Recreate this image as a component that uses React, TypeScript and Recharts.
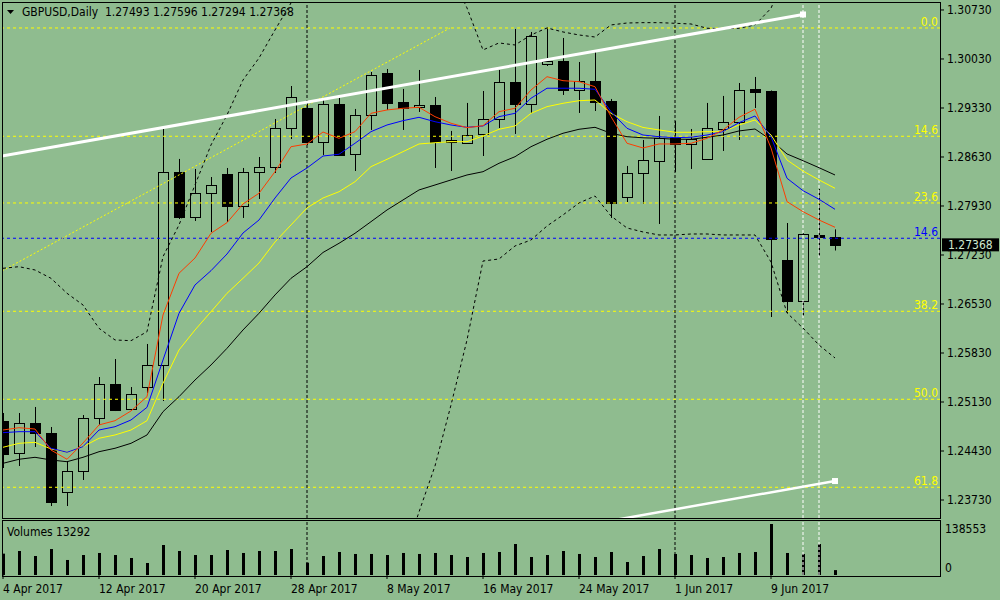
import { ComposedChart, Bar, Line, XAxis, YAxis, ReferenceLine, ReferenceDot } from 'recharts'

const BG = '#8fbc8f'
const FONT = '"DejaVu Sans Condensed", "Liberation Sans Narrow", "Liberation Sans", sans-serif'

// x domain: 16px per bar, bar 1 centred 1px right of the left border
const X_MIN = 0.9375
const X_MAX = 59.5625
const Y_MIN = 1.23473
const Y_MAX = 1.30844

const dates = [
  '4 Apr', '5 Apr', '6 Apr', '7 Apr', '10 Apr', '11 Apr', '12 Apr', '13 Apr', '14 Apr', '17 Apr',
  '18 Apr', '19 Apr', '20 Apr', '21 Apr', '24 Apr', '25 Apr', '26 Apr', '27 Apr', '28 Apr', '1 May',
  '2 May', '3 May', '4 May', '5 May', '8 May', '9 May', '10 May', '11 May', '12 May', '15 May',
  '16 May', '17 May', '18 May', '19 May', '22 May', '23 May', '24 May', '25 May', '26 May', '29 May',
  '30 May', '31 May', '1 Jun', '2 Jun', '5 Jun', '6 Jun', '7 Jun', '8 Jun', '9 Jun', '12 Jun',
  '13 Jun', '14 Jun', '15 Jun',
]

const opens = [
  1.24859, 1.24401, 1.2483, 1.24687, 1.23844, 1.24144, 1.24901, 1.25387, 1.2503, 1.25344,
  1.25659, 1.28416, 1.27773, 1.28116, 1.28387, 1.2793, 1.28416, 1.28487, 1.29044, 1.2933,
  1.28844, 1.29387, 1.28673, 1.2923, 1.2983, 1.29416, 1.29344, 1.29373, 1.28844, 1.2883,
  1.28959, 1.29173, 1.29702, 1.29387, 1.29959, 1.30002, 1.29587, 1.29716, 1.2943, 1.28059,
  1.28402, 1.28573, 1.28902, 1.28816, 1.28602, 1.2903, 1.2913, 1.29602, 1.29573, 1.27159,
  1.26573, 1.27516, 1.27493,
]
const highs = [
  1.24973, 1.24973, 1.25059, 1.24773, 1.24287, 1.24944, 1.25487, 1.25744, 1.25344, 1.25959,
  1.29044, 1.28602, 1.28459, 1.28344, 1.28473, 1.28473, 1.2863, 1.29173, 1.29644, 1.29402,
  1.29473, 1.29473, 1.29316, 1.29844, 1.29887, 1.29602, 1.29873, 1.29487, 1.29002, 1.29402,
  1.29573, 1.29873, 1.30459, 1.30416, 1.30487, 1.3033, 1.29987, 1.3013, 1.29459, 1.28502,
  1.28873, 1.29216, 1.29144, 1.2903, 1.29402, 1.29502, 1.29687, 1.29773, 1.2958, 1.27687,
  1.2754, 1.28173, 1.27596,
]
const lows = [
  1.24187, 1.24216, 1.24487, 1.23644, 1.23644, 1.24016, 1.24801, 1.25001, 1.25016, 1.25259,
  1.25144, 1.27744, 1.27716, 1.27559, 1.27701, 1.27759, 1.2803, 1.28402, 1.28887, 1.28802,
  1.28659, 1.28644, 1.2843, 1.29016, 1.29302, 1.29016, 1.29273, 1.28473, 1.2843, 1.28816,
  1.28644, 1.29044, 1.28959, 1.29259, 1.2993, 1.29516, 1.29259, 1.29287, 1.27759, 1.27987,
  1.27959, 1.27673, 1.28416, 1.28459, 1.28595, 1.28716, 1.28873, 1.2933, 1.26344, 1.26402,
  1.26359, 1.27216, 1.27294,
]
const closes = [
  1.24387, 1.2483, 1.24687, 1.23701, 1.24144, 1.24901, 1.25387, 1.25016, 1.25244, 1.25659,
  1.28416, 1.27773, 1.28116, 1.2823, 1.2793, 1.28416, 1.28487, 1.29044, 1.29487, 1.28844,
  1.29387, 1.28659, 1.2923, 1.29802, 1.29402, 1.2933, 1.29373, 1.28844, 1.28873, 1.28944,
  1.29173, 1.29702, 1.29387, 1.30359, 1.30002, 1.29587, 1.29716, 1.29416, 1.27973, 1.28402,
  1.28587, 1.28902, 1.28816, 1.28887, 1.29044, 1.2913, 1.29587, 1.29559, 1.27459, 1.26573,
  1.2753, 1.27493, 1.27368,
]
const volumes = [
  58000, 65200, 51600, 70600, 40800, 54300, 59800, 54300, 46200, 32600,
  81500, 65200, 54300, 54300, 67900, 59800, 65200, 65200, 70600, 33500,
  51600, 62500, 57100, 57100, 54300, 59800, 57100, 59800, 54300, 48900,
  59800, 62500, 84200, 48900, 54300, 65200, 57100, 48900, 62500, 35300,
  51600, 70600, 57100, 54300, 46200, 48900, 59800, 62500, 138553, 59800,
  57100, 84200, 13292,
]

const maRed = [
  1.2473, 1.24763, 1.24744, 1.24444, 1.24312, 1.24544, 1.24802, 1.24863, 1.25002, 1.25206,
  1.26373, 1.26969, 1.27187, 1.2754, 1.27692, 1.27959, 1.28112, 1.2842, 1.28777, 1.28816,
  1.28987, 1.28897, 1.28992, 1.29254, 1.29302, 1.29326, 1.2934, 1.29206, 1.29112, 1.29049,
  1.29077, 1.29277, 1.29326, 1.29587, 1.29777, 1.2972, 1.29706, 1.29634, 1.29206, 1.28826,
  1.28759, 1.28816, 1.28816, 1.28826, 1.28897, 1.29016, 1.29197, 1.29312, 1.28759, 1.27992,
  1.27849, 1.2773, 1.27626,
]
const maBlue = [
  1.24692, 1.24706, 1.24706, 1.24469, 1.24412, 1.24492, 1.2473, 1.24777, 1.24873, 1.25054,
  1.2573, 1.26397, 1.26802, 1.27006, 1.27244, 1.27544, 1.2773, 1.28044, 1.2833, 1.28473,
  1.28644, 1.28669, 1.28826, 1.28992, 1.29087, 1.29149, 1.29197, 1.29134, 1.29087, 1.29054,
  1.29073, 1.29206, 1.29254, 1.29469, 1.29612, 1.29612, 1.29612, 1.29597, 1.29277, 1.2904,
  1.28944, 1.2892, 1.28906, 1.28912, 1.28944, 1.28992, 1.2912, 1.29216, 1.2892, 1.28326,
  1.28149, 1.28026, 1.27883,
]
const maYellow = [
  1.24483, 1.2454, 1.24554, 1.24459, 1.24412, 1.24492, 1.24612, 1.24659, 1.2473, 1.24863,
  1.25397, 1.25873, 1.26159, 1.2642, 1.26683, 1.26897, 1.27116, 1.27416, 1.27659, 1.27902,
  1.28044, 1.28134, 1.28277, 1.28492, 1.28597, 1.28706, 1.28816, 1.28834, 1.28849, 1.28849,
  1.2893, 1.29026, 1.29073, 1.29254, 1.29349, 1.29397, 1.29434, 1.29444, 1.29254, 1.29134,
  1.29052, 1.29016, 1.28983, 1.28983, 1.28992, 1.28992, 1.29087, 1.29159, 1.28944, 1.28587,
  1.2843, 1.28302, 1.28183,
]
const maBlack = [
  1.24254, 1.24312, 1.2434, 1.24302, 1.24277, 1.2434, 1.2442, 1.24469, 1.2454, 1.24659,
  1.24992, 1.25206, 1.25444, 1.25659, 1.25897, 1.26159, 1.26397, 1.26659, 1.26897, 1.27063,
  1.27266, 1.27397, 1.2754, 1.27706, 1.27873, 1.28016, 1.28159, 1.2823, 1.28302, 1.28373,
  1.2842, 1.2854, 1.28634, 1.28777, 1.28883, 1.28969, 1.29026, 1.29054, 1.28969, 1.2892,
  1.28904, 1.28897, 1.28883, 1.28883, 1.28912, 1.28944, 1.29002, 1.2903, 1.28873, 1.28673,
  1.28577, 1.28477, 1.28373,
]
const bandUpper = [
  1.2704, 1.27063, 1.27016, 1.26897, 1.26683, 1.26516, 1.26183, 1.26016, 1.26006, 1.26134,
  1.27206, 1.27659, 1.2823, 1.28802, 1.2923, 1.2973, 1.30044, 1.30444, 1.3083, 1.3123,
  1.31516, 1.3173, 1.31873, 1.31944, 1.31944, 1.31873, 1.3173, 1.31516, 1.3123, 1.30759,
  1.30159, 1.30259, 1.3023, 1.30373, 1.30473, 1.30416, 1.30373, 1.30344, 1.30516, 1.30544,
  1.30549, 1.30549, 1.3054, 1.3053, 1.30469, 1.30463, 1.30469, 1.30516, 1.30754, 1.31302,
  1.31516, 1.31659, 1.31759,
]
const bandLower = [
  1.22873, 1.22873, 1.22944, 1.22873, 1.22873, 1.22944, 1.22873, 1.22802, 1.22802, 1.22873,
  1.22016, 1.21587, 1.21159, 1.20873, 1.2073, 1.2073, 1.20873, 1.21016, 1.21159, 1.21302,
  1.21587, 1.21873, 1.22159, 1.22444, 1.22659, 1.22873, 1.23559, 1.24216, 1.25087, 1.26016,
  1.27144, 1.27173, 1.27359, 1.27444, 1.27644, 1.27802, 1.27973, 1.28073, 1.27787, 1.27616,
  1.27559, 1.27516, 1.27516, 1.2753, 1.2753, 1.27516, 1.27516, 1.27516, 1.2713, 1.26402,
  1.26187, 1.25944, 1.25759,
]

const priceTicks = [1.2373, 1.2443, 1.2513, 1.2583, 1.2653, 1.2723, 1.2793, 1.2863, 1.2933, 1.3003, 1.3073]
const dateTicks = [1, 7, 13, 19, 25, 31, 37, 43, 49]
const volTicks = [0, 138553]

const fibLevels = [
  { label: '0.0', price: 1.30473 },
  { label: '14.6', price: 1.28926 },
  { label: '23.6', price: 1.27973 },
  { label: '38.2', price: 1.26426 },
  { label: '50.0', price: 1.25169 },
  { label: '61.8', price: 1.23912 },
]
const blueLevel = { label: '14.6', price: 1.27469 }

const channelTop = [{ x: X_MIN, y: 1.28644 }, { x: 51, y: 1.30666 }]
const channelBottom = [{ x: 38, y: 1.23395 }, { x: 53, y: 1.24001 }]
const fibBase = [{ x: X_MIN, y: 1.27002 }, { x: 28.94, y: 1.30473 }]
const userLines = [51, 52]

const data = dates.map((d, k) => ({
  i: k + 1,
  date: d,
  open: opens[k],
  high: highs[k],
  low: lows[k],
  close: closes[k],
  red: maRed[k],
  blue: maBlue[k],
  yellow: maYellow[k],
  black: maBlack[k],
  up: bandUpper[k],
  dn: bandLower[k],
  vol: volumes[k],
}))

// period separators where the month changes
const separators = data.filter((d, k) => k > 0 && d.date.split(' ')[1] !== data[k - 1].date.split(' ')[1]).map((d) => d.i)

const last = data[data.length - 1]

const Candle = (props: any) => {
  const { x, y, width, height, payload } = props
  const { open, close, high, low } = payload
  const top = Math.min(y, y + height)
  const h = Math.abs(height)
  const k = high === low ? 0 : h / (high - low)
  const py = (p: number) => top + (high - p) * k
  const cx = Math.round(x + width / 2) + 0.5
  const bTop = Math.round(py(Math.max(open, close))) + 0.5
  const bBot = Math.round(py(Math.min(open, close))) + 0.5
  const bull = close > open
  return (
    <g>
      <line x1={cx} x2={cx} y1={top} y2={top + h} stroke="#000" />
      <rect
        x={cx - 5}
        y={bTop}
        width={10}
        height={Math.max(bBot - bTop, 1)}
        fill={bull ? BG : '#000'}
        stroke="#000"
      />
    </g>
  )
}

const VolBar = (props: any) => {
  const { x, y, width, height } = props
  const cx = Math.round(x + width / 2)
  return <rect x={cx - 1} y={y} width={3} height={height} fill="#000" />
}

const Square = (props: any) => (
  <rect x={props.cx - 3} y={props.cy - 3} width={6} height={6} fill="#fff" />
)

const PriceTag = (props: any) => {
  const { viewBox } = props
  const x = viewBox.x + viewBox.width
  const y = viewBox.y
  return (
    <g>
      <rect x={x + 2} y={y - 7} width={57} height={13} fill="#000" />
      <text x={x + 8} y={y} dy="0.3em" fontSize={12} fontFamily={FONT} fill="#cfe8cf">
        {last.close.toFixed(5)}
      </text>
    </g>
  )
}

const DateTick = (props: any) => {
  const { x, y, payload } = props
  return (
    <text x={x} y={y} dy="0.71em" textAnchor="start" fontSize={12} fontFamily={FONT} fill="#000">
      {`${dates[payload.value - 1]} 2017`}
    </text>
  )
}

const VolTick = (props: any) => {
  const { x, y, payload } = props
  return (
    <text x={x} y={payload.value === 0 ? y - 7 : y + 5} dy="0.36em" textAnchor="start" fontSize={12} fontFamily={FONT} fill="#000">
      {payload.value}
    </text>
  )
}

const lineProps = { type: 'linear' as const, dot: false, activeDot: false, isAnimationActive: false, strokeWidth: 1 }

const App = () => {
  return (
    <div
      style={{
        position: 'fixed',
        left: 0,
        top: 0,
        width: 1000,
        height: 600,
        background: BG,
        overflow: 'hidden',
        fontFamily: FONT,
      }}
    >
      <div style={{ position: 'absolute', left: 0, top: 0 }}>
        <ComposedChart width={1000} height={519} data={data} margin={{ top: 2, right: 0, bottom: 1, left: 2 }}>
          <XAxis dataKey="i" type="number" domain={[X_MIN, X_MAX]} allowDataOverflow hide />
          <YAxis
            orientation="right"
            domain={[Y_MIN, Y_MAX]}
            allowDataOverflow
            ticks={priceTicks}
            interval={0}
            width={60}
            axisLine={false}
            tickSize={4}
            tickMargin={3}
            tickLine={{ stroke: '#000' }}
            tick={{ fill: '#000', fontSize: 12, fontFamily: FONT }}
            tickFormatter={(v: number) => v.toFixed(5)}
          />
          {fibLevels.map((f) => (
            <ReferenceLine
              key={f.label}
              y={f.price}
              stroke="#ffff00"
              strokeDasharray="3 3"
              label={{ value: f.label, position: 'insideBottomRight', offset: 2, fill: '#ffff00', fontSize: 12, fontFamily: FONT }}
            />
          ))}
          <ReferenceLine
            y={blueLevel.price}
            stroke="#0000ff"
            strokeDasharray="3 3"
            label={{ value: blueLevel.label, position: 'insideBottomRight', offset: 2, fill: '#0000ff', fontSize: 12, fontFamily: FONT }}
          />
          {separators.map((s) => (
            <ReferenceLine key={s} x={s} stroke="#000" strokeDasharray="3 2" />
          ))}
          {userLines.map((s) => (
            <ReferenceLine key={s} x={s} stroke="#fff" strokeDasharray="3 2" />
          ))}
          <ReferenceLine segment={fibBase} stroke="#ffff00" strokeDasharray="2 2" ifOverflow="hidden" />
          <Line dataKey="up" stroke="#000" strokeDasharray="3 3" {...lineProps} />
          <Line dataKey="dn" stroke="#000" strokeDasharray="3 3" {...lineProps} />
          <Bar
            dataKey={(d: any) => [d.low, d.high]}
            barSize={11}
            shape={<Candle />}
            isAnimationActive={false}
          />
          <Line dataKey="black" stroke="#000" {...lineProps} />
          <Line dataKey="yellow" stroke="#ffff00" {...lineProps} />
          <Line dataKey="blue" stroke="#0000ff" {...lineProps} />
          <Line dataKey="red" stroke="#ff3c00" {...lineProps} />
          <ReferenceLine segment={channelTop} stroke="#fff" strokeWidth={3} ifOverflow="hidden" />
          <ReferenceLine segment={channelBottom} stroke="#fff" strokeWidth={2.5} ifOverflow="hidden" />
          <ReferenceDot x={channelTop[1].x} y={channelTop[1].y} shape={<Square />} ifOverflow="visible" />
          <ReferenceDot x={channelBottom[1].x} y={channelBottom[1].y} shape={<Square />} ifOverflow="visible" />
          <ReferenceLine y={last.close} stroke="none" label={(p: any) => <PriceTag {...p} />} />
        </ComposedChart>
      </div>

      <div style={{ position: 'absolute', left: 0, top: 520 }}>
        <ComposedChart width={1000} height={80} data={data} margin={{ top: 1, right: 0, bottom: 0, left: 2 }}>
          <XAxis
            dataKey="i"
            type="number"
            domain={[X_MIN, X_MAX]}
            allowDataOverflow
            ticks={dateTicks}
            interval={0}
            height={25}
            axisLine={false}
            tickSize={4}
            tickMargin={5}
            tickLine={{ stroke: '#000' }}
            tick={<DateTick />}
          />
          <YAxis
            orientation="right"
            domain={[0, 146700]}
            allowDataOverflow
            ticks={volTicks}
            interval={0}
            width={60}
            axisLine={false}
            tickLine={false}
            tickSize={4}
            tickMargin={1}
            tick={<VolTick />}
          />
          {separators.map((s) => (
            <ReferenceLine key={s} x={s} stroke="#000" strokeDasharray="3 2" />
          ))}
          {userLines.map((s) => (
            <ReferenceLine key={s} x={s} stroke="#fff" strokeDasharray="3 2" />
          ))}
          <Bar dataKey="vol" barSize={3} shape={<VolBar />} isAnimationActive={false} />
        </ComposedChart>
      </div>

      {/* title and panel captions */}
      <svg style={{ position: 'absolute', left: 0, top: 0 }} width={20} height={20}>
        <polygon points="7,10 14,10 10.5,14" fill="#000" />
      </svg>
      <div style={{ position: 'absolute', left: 22, top: 5, fontSize: 12, lineHeight: '14px', color: '#000', whiteSpace: 'pre' }}>
        {`GBPUSD,Daily  ${last.open.toFixed(5)} ${last.high.toFixed(5)} ${last.low.toFixed(5)} ${last.close.toFixed(5)}`}
      </div>
      <div style={{ position: 'absolute', left: 7, top: 525, fontSize: 12, lineHeight: '14px', color: '#000' }}>
        {`Volumes ${last.vol}`}
      </div>

      {/* panel borders */}
      <div style={{ position: 'absolute', left: 2, top: 2, width: 939, height: 517, boxSizing: 'border-box', border: '1px solid #000', pointerEvents: 'none' }} />
      <div style={{ position: 'absolute', left: 2, top: 520, width: 939, height: 57, boxSizing: 'border-box', border: '1px solid #000', pointerEvents: 'none' }} />
    </div>
  )
}

export default App
